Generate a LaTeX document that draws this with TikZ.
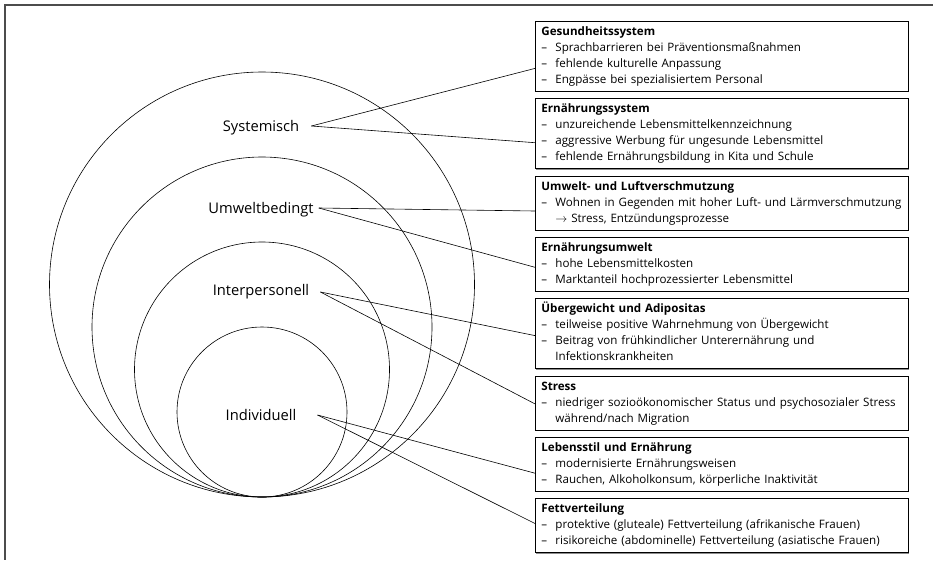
\documentclass[tikz,border=0pt]{standalone}
\usepackage{fontspec}
\setmainfont{Open Sans}
\usetikzlibrary{positioning,shadows}

\newcommand{\boxhead}[1]{\strut\textbf{#1}}
\newcommand{\boxitem}[1]{\strut\makebox[14pt][l]{--}#1}
\newcommand{\boxmore}[1]{\strut\hspace*{14pt}#1}

\begin{document}
\begin{tikzpicture}[x=1pt,y=-1pt,
   factorbox/.style={draw,line width=0.8pt,fill=white,text width=361pt,inner xsep=6pt,inner ysep=3pt,
      align=left,font=\fontsize{11.6}{16}\selectfont,
      drop shadow={shadow xshift=1pt,shadow yshift=-1pt,fill=black!45,opacity=1}},
   level/.style={inner sep=0pt,font=\fontsize{14.7}{17}\selectfont},
   link/.style={line width=0.6pt},
   ring/.style={line width=0.6pt}]
   \useasboundingbox (0,0) rectangle (933,560);
   % frame
   \draw [black!70,line width=1.8pt] (933,5) -- (5,5) -- (5,560);
   % nested levels, all touching at the bottom
   \foreach \r in {85,127.5,170,212.5}
      \draw [ring] (262,{497-\r}) circle [radius=\r pt];
   \node [level] (sys) at (261,128) {Systemisch};
   \node [level] (umw) at (261,210) {Umweltbedingt};
   \node [level] (inter) at (261,292) {Interpersonell};
   \node [level] (indiv) at (261,415) {Individuell};
   % factor boxes
   \node [factorbox,anchor=north west] (gesund) at (535,21)
      {\boxhead{Gesundheitssystem}\\
       \boxitem{Sprachbarrieren bei Präventionsmaßnahmen}\\
       \boxitem{fehlende kulturelle Anpassung}\\
       \boxitem{Engpässe bei spezialisiertem Personal}};
   \node [factorbox,below=6.5pt of gesund] (ernsys)
      {\boxhead{Ernährungssystem}\\
       \boxitem{unzureichende Lebensmittelkennzeichnung}\\
       \boxitem{aggressive Werbung für ungesunde Lebensmittel}\\
       \boxitem{fehlende Ernährungsbildung in Kita und Schule}};
   \node [factorbox,below=6.5pt of ernsys] (luft)
      {\boxhead{Umwelt- und Luftverschmutzung}\\
       \boxitem{Wohnen in Gegenden mit hoher Luft- und Lärmverschmutzung}\\
       \boxmore{$\rightarrow$ Stress, Entzündungsprozesse}};
   \node [factorbox,below=6.5pt of luft] (ernumw)
      {\boxhead{Ernährungsumwelt}\\
       \boxitem{hohe Lebensmittelkosten}\\
       \boxitem{Marktanteil hochprozessierter Lebensmittel}};
   \node [factorbox,below=6.5pt of ernumw] (adipo)
      {\boxhead{Übergewicht und Adipositas}\\
       \boxitem{teilweise positive Wahrnehmung von Übergewicht}\\
       \boxitem{Beitrag von frühkindlicher Unterernährung und}\\
       \boxmore{Infektionskrankheiten}};
   \node [factorbox,below=6.5pt of adipo] (stress)
      {\boxhead{Stress}\\
       \boxitem{niedriger sozioökonomischer Status und psychosozialer Stress}\\
       \boxmore{während/nach Migration}};
   \node [factorbox,below=6.5pt of stress] (lebstil)
      {\boxhead{Lebensstil und Ernährung}\\
       \boxitem{modernisierte Ernährungsweisen}\\
       \boxitem{Rauchen, Alkoholkonsum, körperliche Inaktivität}};
   \node [factorbox,below=6.5pt of lebstil] (fett)
      {\boxhead{Fettverteilung}\\
       \boxitem{protektive (gluteale) Fettverteilung (afrikanische Frauen)}\\
       \boxitem{risikoreiche (abdominelle) Fettverteilung (asiatische Frauen)}};
   % connectors
   \draw [link] ([xshift=12pt,yshift=2pt]sys.east) -- ([yshift=-12pt]gesund.west);
   \draw [link] ([xshift=12pt,yshift=2pt]sys.east) -- ([yshift=-9pt]ernsys.west);
   \draw [link] ([xshift=5pt,yshift=2pt]umw.east) -- ([yshift=-8pt]luft.west);
   \draw [link] ([xshift=5pt,yshift=2pt]umw.east) -- ([yshift=-3pt]ernumw.west);
   \draw [link] ([xshift=11pt]inter.east) -- ([yshift=-2pt]adipo.west);
   \draw [link] ([xshift=11pt]inter.east) -- ([yshift=-1pt]stress.west);
   \draw [link] ([xshift=21pt]indiv.east) -- ([yshift=-9pt]lebstil.west);
   \draw [link] ([xshift=21pt]indiv.east) -- ([yshift=2pt]fett.west);
\end{tikzpicture}
\end{document}
